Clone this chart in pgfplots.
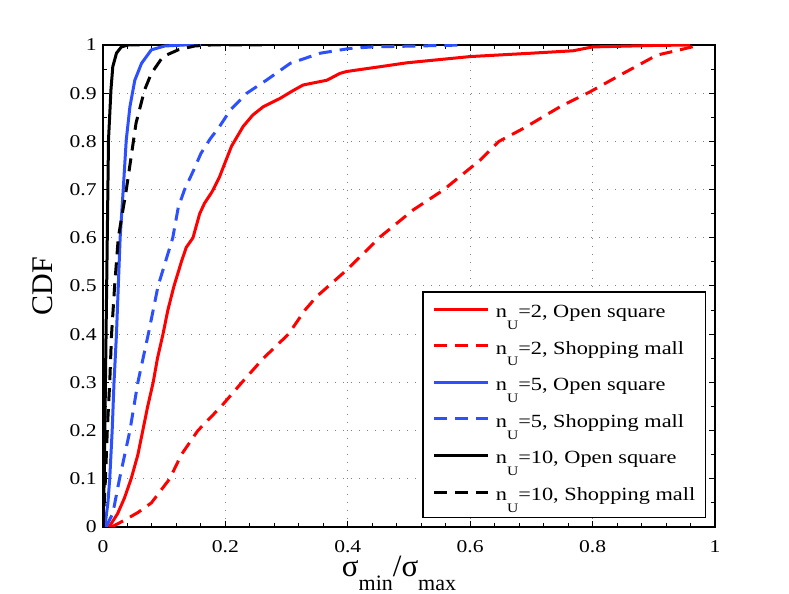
\documentclass[border=0pt]{standalone}
\usepackage{fontspec}
\setmainfont{Liberation Serif}
\newfontfamily\smallf{Liberation Serif}[FakeStretch=1.2]
\usepackage{pgfplots}
\pgfplotsset{compat=1.18}
\definecolor{myblue}{RGB}{45,80,255}
\newcommand{\lgt}[2]{n\raisebox{-5.9pt}{\fontsize{6.5}{7}\selectfont U}=#1, #2}
\begin{document}
\begin{tikzpicture}
\useasboundingbox (-51.5pt,-33.5pt) rectangle (343pt,263.5pt);
\begin{axis}[
  at={(0pt,0pt)}, anchor=south west,
  scale only axis, width=306pt, height=241pt,
  xmin=0, xmax=1, ymin=0, ymax=1,
  xtick={0,0.2,0.4,0.6,0.8,1},
  xticklabels={0,0.2,0.4,0.6,0.8,1},
  ytick={0,0.1,0.2,0.3,0.4,0.5,0.6,0.7,0.8,0.9,1},
  yticklabels={0,0.1,0.2,0.3,0.4,0.5,0.6,0.7,0.8,0.9,1},
  minor x tick num=4, minor y tick num=1,
  tick align=inside, tick pos=both,
  major tick length=3pt, minor tick length=2pt,
  axis line style={line width=0.6pt},
  tick style={line width=0.5pt, black},
  grid=major,
  major grid style={black!50, line width=0.5pt, dash pattern=on 0.6pt off 3.4pt},
  ticklabel style={font=\fontsize{9}{10}\smallf, inner sep=1pt},
  xticklabel style={yshift=-5.5pt},
  yticklabel style={xshift=-2pt},
  /pgf/number format/assume math mode=true,
  xlabel={\fontsize{15.5}{18}\selectfont σ\raisebox{-7pt}{\fontsize{11}{12}\selectfont min}/σ\raisebox{-7pt}{\fontsize{11}{12}\selectfont max}},
  xlabel style={at={(axis description cs:0.4837,-0.1037)}, anchor=base, inner sep=0pt},
  ylabel={\fontsize{15}{18}\selectfont CDF},
  ylabel style={at={(axis description cs:-0.098,0.5)}, anchor=center, inner sep=0pt},
  legend style={at={(rel axis cs:0.985,0.019)}, anchor=south east, draw=black, line width=0.6pt, fill=white,
    font=\fontsize{9.3}{10}\smallf, inner xsep=5pt, inner ysep=1.4pt, row sep=0pt, column sep=3pt,
    nodes={inner sep=0pt, text height=11.3pt, text depth=7pt}},
  legend cell align=left,
  legend image code/.code={\draw[#1] (0pt,2pt) -- (27pt,2pt);},
  every axis plot/.append style={line join=round},
]
\addplot[red, line width=1.5pt] coordinates {
(0.010,0) (0.024,0.028) (0.035,0.06) (0.046,0.1) (0.057,0.15) (0.065,0.2) (0.073,0.25) (0.082,0.3) (0.089,0.35) (0.098,0.4) (0.106,0.45) (0.116,0.5) (0.124,0.533) (0.128,0.55) (0.136,0.58) (0.147,0.6) (0.158,0.65) (0.166,0.672) (0.178,0.695) (0.190,0.725) (0.197,0.748) (0.210,0.79) (0.229,0.831) (0.245,0.855) (0.262,0.872) (0.289,0.889) (0.310,0.905) (0.327,0.917) (0.366,0.927) (0.387,0.941) (0.398,0.945) (0.453,0.955) (0.496,0.963) (0.6,0.976) (0.7,0.983) (0.768,0.988) (0.80,0.996) (0.9,0.999) (0.959,1.0)
};
\addlegendentry{\lgt{2}{Open square}}
\addplot[red, line width=1.5pt, dash pattern=on 6.5pt off 4pt] coordinates {
(0.014,0) (0.035,0.014) (0.057,0.03) (0.079,0.05) (0.109,0.1) (0.128,0.15) (0.155,0.2) (0.193,0.25) (0.227,0.3) (0.262,0.35) (0.303,0.4) (0.330,0.45) (0.349,0.478) (0.398,0.533) (0.453,0.602) (0.507,0.658) (0.556,0.699) (0.616,0.761) (0.647,0.8) (0.687,0.827) (0.747,0.872) (0.796,0.903) (0.85,0.941) (0.905,0.979) (0.943,0.99) (0.975,1.0)
};
\addlegendentry{\lgt{2}{Shopping mall}}
\addplot[myblue, line width=1.5pt] coordinates {
(0.003,0) (0.008,0.05) (0.011,0.1) (0.015,0.2) (0.018,0.3) (0.022,0.4) (0.025,0.5) (0.028,0.6) (0.033,0.699) (0.038,0.803) (0.044,0.872) (0.052,0.927) (0.063,0.962) (0.079,0.99) (0.101,0.998) (0.133,1.0) (0.16,1.0)
};
\addlegendentry{\lgt{5}{Open square}}
\addplot[myblue, line width=1.5pt, dash pattern=on 6.5pt off 4pt] coordinates {
(0.005,0) (0.016,0.028) (0.027,0.1) (0.044,0.2) (0.057,0.3) (0.074,0.4) (0.09,0.5) (0.114,0.6) (0.123,0.663) (0.133,0.699) (0.148,0.74) (0.160,0.775) (0.175,0.805) (0.19,0.83) (0.208,0.865) (0.235,0.9) (0.267,0.927) (0.306,0.962) (0.355,0.983) (0.404,0.993) (0.44,0.996) (0.59,1.0)
};
\addlegendentry{\lgt{5}{Shopping mall}}
\addplot[black, line width=1.5pt] coordinates {
(0.0,0) (0.002,0.1) (0.004,0.3) (0.007,0.6) (0.009,0.803) (0.013,0.907) (0.016,0.955) (0.022,0.983) (0.030,0.996) (0.041,1.0) (0.06,1.0)
};
\addlegendentry{\lgt{10}{Open square}}
\addplot[black, line width=1.5pt, dash pattern=on 6.5pt off 4pt] coordinates {
(0.0,0) (0.004,0.1) (0.007,0.2) (0.011,0.3) (0.014,0.4) (0.019,0.5) (0.025,0.6) (0.038,0.699) (0.046,0.768) (0.054,0.838) (0.068,0.907) (0.079,0.941) (0.098,0.976) (0.123,0.99) (0.150,0.998) (0.176,1.0) (0.26,1.0)
};
\addlegendentry{\lgt{10}{Shopping mall}}
\end{axis}
\end{tikzpicture}
\end{document}
